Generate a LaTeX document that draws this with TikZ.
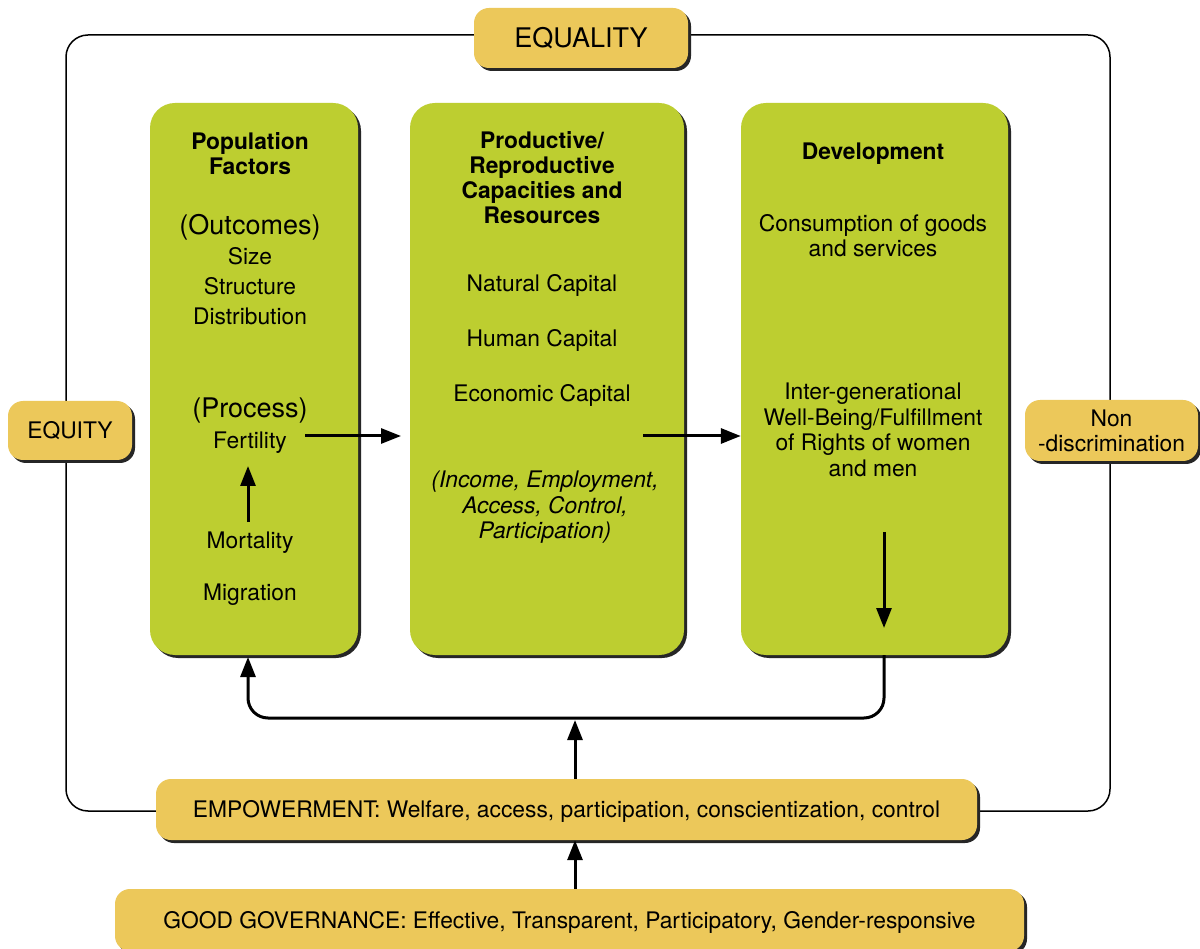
\documentclass[tikz,border=0pt]{standalone}
\usepackage{fontspec}
\setmainfont{TeX Gyre Heros}
\usetikzlibrary{arrows.meta,shadows}
\definecolor{ygold}{RGB}{236,200,90}
\definecolor{lgreen}{RGB}{189,206,48}
\begin{document}
\begin{tikzpicture}[x=1pt,y=-1pt,
  shd/.style={drop shadow={shadow xshift=3pt,shadow yshift=-3pt,fill=black!85,opacity=1}},
  greenbox/.style={fill=lgreen,draw=none,rounded corners=25pt,shd,inner sep=0pt},
  yellowbox/.style={fill=ygold,draw=none,rounded corners=15pt,shd,inner sep=0pt,
    font=\fontsize{22.8}{25}\selectfont,align=center},
  oneline/.style={text height=16.3pt,text depth=0pt},
  txt/.style={anchor=base,inner sep=0pt,font=\fontsize{22.8}{25}\selectfont},
  btxt/.style={txt,font=\fontsize{22.8}{25}\selectfont\bfseries},
  itxt/.style={txt,font=\fontsize{22.8}{25}\selectfont\itshape},
  bigtxt/.style={anchor=base,inner sep=0pt,font=\fontsize{27}{30}\selectfont},
  frame/.style={line width=1.5pt,rounded corners=22pt},
  arr/.style={line width=3pt,-{Triangle[length=20pt,width=15pt]}},
  loop/.style={line width=3pt,rounded corners=20pt,-{Triangle[length=20pt,width=15pt]}}]
\useasboundingbox (0,0) rectangle (1200,949);
\fill[white] (0,0) rectangle (1200,949);

% outer frame
\draw[frame] (66,35) rectangle (1110,811);

% green boxes
\node[greenbox,minimum width=208pt,minimum height=552pt] (box1) at (254,379) {};
\node[greenbox,minimum width=274pt,minimum height=552pt] (box2) at (547,379) {};
\node[greenbox,minimum width=267pt,minimum height=552pt] (box3) at (874.5,379) {};

% yellow boxes
\node[yellowbox,minimum width=214pt,minimum height=60pt,font=\fontsize{27}{30}\selectfont,text height=19.4pt,text depth=0pt] (equality) at (581,38) {EQUALITY};
\node[yellowbox,oneline,minimum width=124pt,minimum height=59pt] (equity) at (70,430.5) {EQUITY};
\node[yellowbox,minimum width=173pt,minimum height=61pt] (nondisc) at (1111.5,430.5) {Non\\-discrimination};
\node[yellowbox,oneline,minimum width=821pt,minimum height=61pt] (emp) at (566.5,809.5) {EMPOWERMENT: Welfare, access, participation, conscientization, control};
\node[yellowbox,oneline,minimum width=909pt,minimum height=62pt] (gov) at (569.5,920) {GOOD GOVERNANCE: Effective, Transparent, Participatory, Gender-responsive};

% box 1 texts
\node[btxt] (pop1) at (250,150) {Population};
\node[btxt] (pop2) at (250,175) {Factors};
\node[bigtxt] (outc) at (250,235) {(Outcomes)};
\node[txt] (size) at (250,265) {Size};
\node[txt] (struct) at (250,295) {Structure};
\node[txt] (distr) at (250,325) {Distribution};
\node[bigtxt] (proc) at (250,418) {(Process)};
\node[txt] (fert) at (250,449) {Fertility};
\node[txt] (mort) at (250,548) {Mortality};
\node[txt] (migr) at (250,600) {Migration};

% box 2 texts
\node[btxt] (pr1) at (542,149) {Productive/};
\node[btxt] (pr2) at (542,174) {Reproductive};
\node[btxt] (pr3) at (542,199) {Capacities and};
\node[btxt] (pr4) at (542,224) {Resources};
\node[txt] (natc) at (542,292) {Natural Capital};
\node[txt] (humc) at (542,347) {Human Capital};
\node[txt] (ecoc) at (542,402) {Economic Capital};
\node[itxt] (inc1) at (545,488) {(Income, Employment,};
\node[itxt] (inc2) at (545,513) {Access, Control,};
\node[itxt] (inc3) at (545,538) {Participation)};

% box 3 texts
\node[btxt] (dev) at (873,160) {Development};
\node[txt] (cons1) at (873,232) {Consumption of goods};
\node[txt] (cons2) at (873,257) {and services};
\node[txt] (ig1) at (873,400) {Inter-generational};
\node[txt] (ig2) at (873,426) {Well-Being/Fulfillment};
\node[txt] (ig3) at (873,451) {of Rights of women};
\node[txt] (ig4) at (873,476) {and men};

% connector coordinates
\coordinate (fertR) at (305,436);
\coordinate (b2in) at (401,436);
\coordinate (b2out) at (643,436);
\coordinate (mortTop) at (248,522);
\coordinate (fertBot) at (248,466);
\coordinate (d3a) at (884,532);
\coordinate (d3b) at (884,628);
\coordinate (loopStart) at (884,655);
\coordinate (loopMid) at (575,718);
\coordinate (loopEnd) at (248,657);

% arrows
\draw[arr] (fertR) -- (b2in);
\draw[arr] (b2out) -- (b2out -| box3.west);
\draw[arr] (mortTop) -- (fertBot);
\draw[arr] (d3a) -- (d3b);
\draw[loop] (loopStart) |- (loopMid) -| (loopEnd);
\draw[arr] (emp.north -| loopMid) -- ([yshift=-2pt]loopMid);
\draw[arr] (gov.north -| loopMid) -- (emp.south -| loopMid);
\end{tikzpicture}
\end{document}
